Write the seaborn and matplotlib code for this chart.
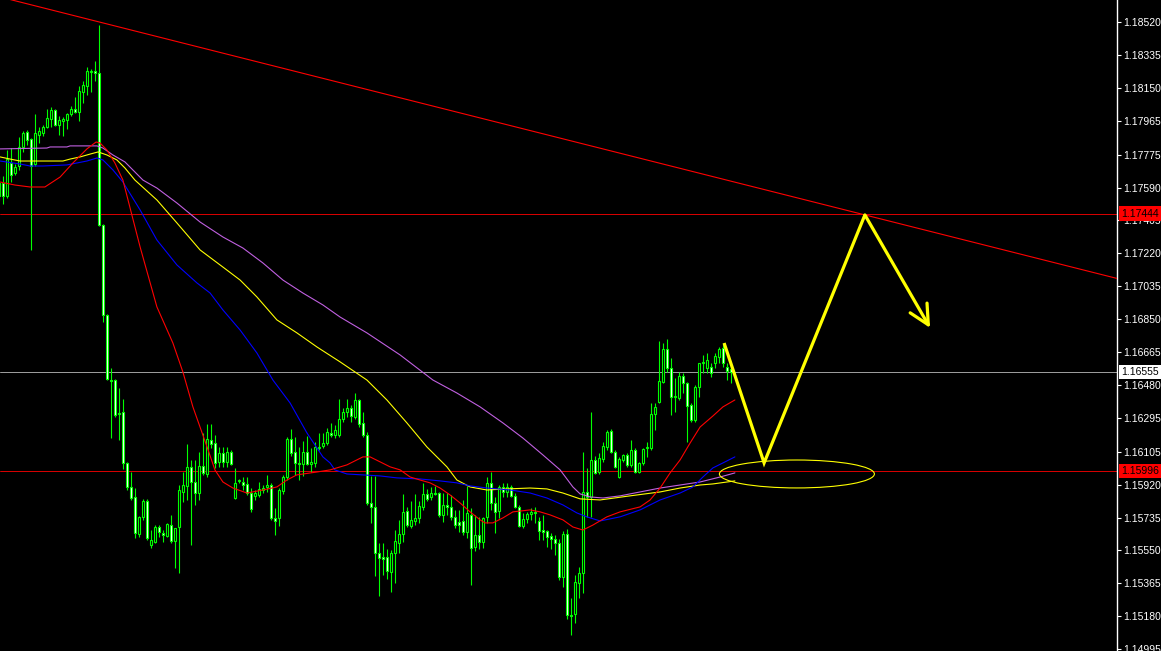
import numpy as np
import matplotlib
matplotlib.use("Agg")
import matplotlib.pyplot as plt
import seaborn as sns
from matplotlib.patches import Ellipse
from matplotlib.transforms import blended_transform_factory

# ---------------- data (prices) ----------------
opens = [1.17616, 1.17616, 1.17543, 1.17728, 1.17672, 1.17711, 1.17818, 1.17902, 1.17863, 1.17722,
         1.17885, 1.17897, 1.17930, 1.17975, 1.18026, 1.17942, 1.17964, 1.17970, 1.18003, 1.18031,
         1.18015, 1.18127, 1.18161, 1.18239, 1.18245, 1.18234, 1.17380, 1.16874, 1.16508, 1.16508,
         1.16323, 1.16329, 1.16042, 1.15907, 1.15851, 1.15643, 1.15739, 1.15828, 1.15581, 1.15598,
         1.15682, 1.15649, 1.15632, 1.15693, 1.15604, 1.15682, 1.15879, 1.15913, 1.16020, 1.15935,
         1.15873, 1.16025, 1.15980, 1.16171, 1.16154, 1.16048, 1.16098, 1.16048, 1.16104, 1.15845,
         1.15941, 1.15935, 1.15924, 1.15873, 1.15857, 1.15862, 1.15890, 1.15907, 1.15918, 1.15733,
         1.15733, 1.15885, 1.15963, 1.16177, 1.16104, 1.16042, 1.16036, 1.16104, 1.16036, 1.16042,
         1.16126, 1.16138, 1.16154, 1.16211, 1.16199, 1.16199, 1.16289, 1.16329, 1.16351, 1.16300,
         1.16396, 1.16267, 1.16199, 1.15817, 1.15795, 1.15536, 1.15514, 1.15514, 1.15429, 1.15536,
         1.15592, 1.15643, 1.15772, 1.15688, 1.15716, 1.15733, 1.15795, 1.15868, 1.15851, 1.15873,
         1.15873, 1.15750, 1.15806, 1.15795, 1.15739, 1.15710, 1.15716, 1.15654, 1.15750, 1.15570,
         1.15637, 1.15598, 1.15739, 1.15930, 1.15817, 1.15772, 1.15907, 1.15879, 1.15907, 1.15857,
         1.15795, 1.15688, 1.15727, 1.15755, 1.15767, 1.15716, 1.15665, 1.15660, 1.15632, 1.15615,
         1.15592, 1.15401, 1.15643, 1.15188, 1.15193, 1.15368, 1.15424, 1.15879, 1.15851, 1.16059,
         1.15991, 1.16064, 1.16132, 1.16222, 1.16104, 1.15963, 1.16059, 1.16087, 1.16031, 1.16115,
         1.15991, 1.16042, 1.16126, 1.16126, 1.16317, 1.16385, 1.16497, 1.16683, 1.16576, 1.16413,
         1.16407, 1.16531, 1.16492, 1.16368, 1.16284, 1.16469, 1.16604, 1.16576, 1.16582, 1.16604,
         1.16638, 1.16688, 1.16582, 1.16570]

highs = [1.17655, 1.17655, 1.17801, 1.17812, 1.17722, 1.17874, 1.17908, 1.17913, 1.17868, 1.18003,
         1.17930, 1.17942, 1.18031, 1.18043, 1.18031, 1.17992, 1.17986, 1.18009, 1.18048, 1.18099,
         1.18161, 1.18189, 1.18268, 1.18256, 1.18301, 1.18504, 1.17385, 1.16879, 1.16576, 1.16514,
         1.16463, 1.16402, 1.16048, 1.15991, 1.15901, 1.15744, 1.15840, 1.15840, 1.15665, 1.15693,
         1.15693, 1.15665, 1.15705, 1.15750, 1.15677, 1.15918, 1.15991, 1.16149, 1.16059, 1.16059,
         1.16104, 1.16211, 1.16261, 1.16261, 1.16199, 1.16132, 1.16132, 1.16132, 1.16115, 1.16014,
         1.15952, 1.15963, 1.15963, 1.15901, 1.15890, 1.15935, 1.15918, 1.15975, 1.15930, 1.15789,
         1.15901, 1.15975, 1.16188, 1.16233, 1.16188, 1.16132, 1.16166, 1.16194, 1.16126, 1.16160,
         1.16211, 1.16211, 1.16239, 1.16267, 1.16256, 1.16402, 1.16351, 1.16402, 1.16368, 1.16435,
         1.16402, 1.16329, 1.16216, 1.15969, 1.15969, 1.15592, 1.15592, 1.15559, 1.15553, 1.15665,
         1.15722, 1.15868, 1.15795, 1.15828, 1.15868, 1.15828, 1.15930, 1.15896, 1.15907, 1.15913,
         1.15879, 1.15873, 1.15873, 1.15862, 1.15778, 1.15778, 1.15834, 1.15913, 1.15789, 1.15750,
         1.15739, 1.15739, 1.15963, 1.15991, 1.15851, 1.15918, 1.15930, 1.15930, 1.15918, 1.15873,
         1.15806, 1.15761, 1.15767, 1.15789, 1.15795, 1.15739, 1.15750, 1.15665, 1.15649, 1.15637,
         1.15615, 1.15660, 1.15671, 1.15283, 1.15413, 1.15458, 1.16104, 1.16014, 1.16329, 1.16081,
         1.16098, 1.16160, 1.16227, 1.16233, 1.16115, 1.16076, 1.16093, 1.16098, 1.16171, 1.16126,
         1.16048, 1.16126, 1.16160, 1.16379, 1.16379, 1.16728, 1.16716, 1.16739, 1.16632, 1.16520,
         1.16553, 1.16548, 1.16497, 1.16379, 1.16480, 1.16604, 1.16649, 1.16660, 1.16604, 1.16660,
         1.16694, 1.16716, 1.16604, 1.16587]

lows = [1.17514, 1.17497, 1.17531, 1.17621, 1.17660, 1.17689, 1.17790, 1.17829, 1.17239, 1.17711,
        1.17840, 1.17880, 1.17925, 1.17930, 1.17936, 1.17885, 1.17880, 1.17919, 1.17992, 1.18009,
        1.17964, 1.18065, 1.18110, 1.18127, 1.18189, 1.17374, 1.16834, 1.16508, 1.16182, 1.16300,
        1.16171, 1.16008, 1.15890, 1.15834, 1.15620, 1.15626, 1.15722, 1.15609, 1.15564, 1.15592,
        1.15626, 1.15598, 1.15626, 1.15592, 1.15452, 1.15424, 1.15823, 1.15834, 1.15581, 1.15806,
        1.15834, 1.15975, 1.15963, 1.16126, 1.16014, 1.16020, 1.16020, 1.16020, 1.16031, 1.15840,
        1.15930, 1.15890, 1.15862, 1.15767, 1.15834, 1.15851, 1.15873, 1.15879, 1.15722, 1.15637,
        1.15688, 1.15868, 1.15946, 1.16081, 1.15975, 1.15946, 1.15969, 1.16031, 1.15991, 1.16020,
        1.16115, 1.16126, 1.16143, 1.16188, 1.16182, 1.16188, 1.16272, 1.16300, 1.16272, 1.16289,
        1.16244, 1.16188, 1.15806, 1.15705, 1.15407, 1.15295, 1.15413, 1.15390, 1.15317, 1.15368,
        1.15536, 1.15598, 1.15682, 1.15677, 1.15693, 1.15705, 1.15778, 1.15828, 1.15834, 1.15862,
        1.15739, 1.15710, 1.15750, 1.15722, 1.15677, 1.15654, 1.15637, 1.15620, 1.15356, 1.15547,
        1.15559, 1.15564, 1.15705, 1.15778, 1.15649, 1.15733, 1.15851, 1.15851, 1.15851, 1.15789,
        1.15682, 1.15677, 1.15705, 1.15722, 1.15705, 1.15609, 1.15609, 1.15570, 1.15559, 1.15525,
        1.15384, 1.15345, 1.15165, 1.15075, 1.15143, 1.15283, 1.15311, 1.15739, 1.15739, 1.15980,
        1.15980, 1.16048, 1.16115, 1.16098, 1.16014, 1.15958, 1.16048, 1.16020, 1.16020, 1.15986,
        1.15986, 1.16031, 1.16076, 1.16115, 1.16227, 1.16379, 1.16492, 1.16553, 1.16312, 1.16329,
        1.16396, 1.16435, 1.16160, 1.16272, 1.16272, 1.16413, 1.16548, 1.16548, 1.16525, 1.16576,
        1.16604, 1.16582, 1.16508, 1.16492]

closes = [1.17543, 1.17543, 1.17750, 1.17660, 1.17706, 1.17818, 1.17897, 1.17857, 1.17711, 1.17897,
          1.17908, 1.17930, 1.17981, 1.18026, 1.17942, 1.17970, 1.17975, 1.18003, 1.18031, 1.18015,
          1.18133, 1.18166, 1.18245, 1.18245, 1.18234, 1.17380, 1.16874, 1.16514, 1.16503, 1.16312,
          1.16317, 1.16042, 1.15907, 1.15845, 1.15649, 1.15739, 1.15828, 1.15620, 1.15609, 1.15682,
          1.15654, 1.15637, 1.15699, 1.15604, 1.15677, 1.15890, 1.15918, 1.16020, 1.15935, 1.15873,
          1.16025, 1.15986, 1.16177, 1.16149, 1.16042, 1.16098, 1.16048, 1.16104, 1.16036, 1.15930,
          1.15946, 1.15918, 1.15873, 1.15783, 1.15873, 1.15896, 1.15901, 1.15918, 1.15733, 1.15716,
          1.15890, 1.15963, 1.16177, 1.16098, 1.16042, 1.16036, 1.16104, 1.16036, 1.16048, 1.16132,
          1.16132, 1.16154, 1.16216, 1.16199, 1.16227, 1.16289, 1.16329, 1.16351, 1.16306, 1.16396,
          1.16261, 1.16199, 1.15817, 1.15795, 1.15536, 1.15508, 1.15502, 1.15435, 1.15536, 1.15604,
          1.15643, 1.15767, 1.15693, 1.15722, 1.15733, 1.15800, 1.15868, 1.15840, 1.15873, 1.15868,
          1.15750, 1.15806, 1.15795, 1.15739, 1.15693, 1.15693, 1.15654, 1.15761, 1.15564, 1.15637,
          1.15598, 1.15733, 1.15930, 1.15817, 1.15767, 1.15907, 1.15879, 1.15907, 1.15857, 1.15795,
          1.15688, 1.15727, 1.15755, 1.15767, 1.15761, 1.15660, 1.15654, 1.15626, 1.15615, 1.15592,
          1.15401, 1.15643, 1.15188, 1.15182, 1.15373, 1.15424, 1.15879, 1.15851, 1.16059, 1.15986,
          1.16070, 1.16138, 1.16216, 1.16104, 1.16020, 1.16064, 1.16087, 1.16031, 1.16115, 1.15991,
          1.16042, 1.16121, 1.16132, 1.16317, 1.16357, 1.16503, 1.16683, 1.16576, 1.16413, 1.16419,
          1.16531, 1.16492, 1.16362, 1.16284, 1.16469, 1.16604, 1.16610, 1.16621, 1.16548, 1.16643,
          1.16683, 1.16604, 1.16559, 1.16555]

# moving averages (bar position, price)
ma_red_x = [0.2, 3.9, 7.7, 11.4, 15.2, 18.4, 21.9, 24.2, 25.2, 26.9, 28.9, 30.9, 35.2, 39.4, 43.4,
            45.9, 48.4, 50.7, 52.2, 53.9, 55.9, 58.4, 61.9, 65.9, 69.4, 71.9, 74.4, 79.4, 82.7,
            86.9, 90.9, 92.7, 95.2, 97.7, 100.2, 102.7, 105.2, 107.7, 110.2, 112.7, 115.2, 117.7,
            120.2, 121.4, 123.4, 125.9, 128.4, 132.7, 135.2, 137.7, 140.9, 143.4, 145.9, 148.4,
            151.9, 155.2, 160.2, 162.7, 165.2, 167.7, 170.2, 172.7, 175.2, 178.4, 180.9, 183.9]
ma_red_y = [1.17621, 1.17604, 1.17593, 1.17593, 1.17649, 1.17728, 1.17807, 1.17846, 1.17840, 1.17801,
            1.17728, 1.17632, 1.17256, 1.16919, 1.16716, 1.16553, 1.16357, 1.16211, 1.16115, 1.16003,
            1.15935, 1.15901, 1.15873, 1.15890, 1.15907, 1.15946, 1.15975, 1.15991, 1.16003, 1.16031,
            1.16076, 1.16076, 1.16048, 1.16020, 1.16003, 1.15963, 1.15946, 1.15930, 1.15901, 1.15862,
            1.15817, 1.15767, 1.15722, 1.15705, 1.15705, 1.15733, 1.15767, 1.15778, 1.15767, 1.15750,
            1.15722, 1.15682, 1.15665, 1.15693, 1.15739, 1.15767, 1.15795, 1.15834, 1.15901, 1.15986,
            1.16059, 1.16154, 1.16244, 1.16306, 1.16357, 1.16396]

ma_blue_x = [0.2, 5.2, 7.7, 10.9, 16.9, 19.4, 21.9, 24.4, 25.9, 28.4, 30.9, 35.2, 39.4, 44.4, 49.4,
             52.7, 55.9, 60.2, 64.4, 68.4, 72.7, 76.9, 80.9, 82.7, 83.9, 86.9, 95.2, 99.4, 105.2,
             110.2, 114.4, 117.7, 121.9, 127.7, 132.7, 136.9, 140.9, 144.4, 146.9, 150.2, 155.2,
             160.2, 165.2, 170.2, 173.4, 175.9, 178.4, 180.9, 183.9]
ma_blue_y = [1.17739, 1.17722, 1.17711, 1.17711, 1.17717, 1.17728, 1.17739, 1.17756, 1.17745, 1.17689,
             1.17621, 1.17464, 1.17295, 1.17155, 1.17054, 1.16997, 1.16902, 1.16789, 1.16660, 1.16508,
             1.16379, 1.16211, 1.16076, 1.16042, 1.16003, 1.15980, 1.15969, 1.15958, 1.15952, 1.15941,
             1.15930, 1.15913, 1.15901, 1.15890, 1.15873, 1.15845, 1.15806, 1.15761, 1.15739, 1.15716,
             1.15739, 1.15778, 1.15834, 1.15873, 1.15907, 1.15963, 1.16014, 1.16042, 1.16076]

ma_yellow_x = [0.2, 2.7, 5.2, 10.9, 15.9, 17.7, 20.2, 22.7, 24.7, 26.9, 29.4, 31.4, 33.9, 39.4, 44.4,
               50.2, 55.9, 60.2, 64.4, 69.4, 74.4, 79.4, 85.2, 91.9, 96.9, 101.9, 106.9, 111.9,
               114.4, 117.7, 121.9, 126.9, 132.7, 136.9, 140.9, 145.2, 150.2, 157.7, 165.2, 170.2,
               175.2, 178.4, 183.9]
ma_yellow_y = [1.17762, 1.17750, 1.17739, 1.17739, 1.17739, 1.17750, 1.17762, 1.17778, 1.17790, 1.17773,
               1.17745, 1.17700, 1.17632, 1.17520, 1.17391, 1.17239, 1.17143, 1.17070, 1.16975, 1.16846,
               1.16773, 1.16694, 1.16610, 1.16508, 1.16396, 1.16267, 1.16132, 1.16020, 1.15946, 1.15907,
               1.15890, 1.15896, 1.15901, 1.15896, 1.15873, 1.15840, 1.15834, 1.15857, 1.15879, 1.15901,
               1.15918, 1.15924, 1.15941]

ma_violet_x = [0.2, 11.9, 12.7, 16.9, 17.7, 24.4, 25.9, 28.4, 31.4, 35.9, 39.4, 44.4, 50.2, 55.9,
               60.9, 65.9, 70.9, 75.9, 80.9, 85.2, 91.9, 100.2, 108.4, 114.4, 120.2, 125.9, 130.9,
               135.9, 140.2, 143.4, 145.2, 147.7, 150.9, 155.2, 157.7, 165.2, 170.2, 175.2, 180.2, 183.9]
ma_violet_y = [1.17807, 1.17812, 1.17818, 1.17818, 1.17824, 1.17824, 1.17812, 1.17773, 1.17734, 1.17632,
               1.17587, 1.17503, 1.17396, 1.17312, 1.17250, 1.17166, 1.17070, 1.16997, 1.16930, 1.16862,
               1.16773, 1.16649, 1.16508, 1.16435, 1.16357, 1.16267, 1.16182, 1.16087, 1.16003, 1.15907,
               1.15868, 1.15851, 1.15845, 1.15857, 1.15868, 1.15901, 1.15918, 1.15935, 1.15963, 1.15986]

# trend line, levels, drawing objects
trend_x = [0.175, 279.425]
trend_y = [1.18661, 1.17079]
level_red = [1.17444, 1.15996]
level_bid = 1.16555
zz_x = [181.2, 191.2, 216.4, 232.7]
zz_y = [1.16716, 1.16042, 1.17436, 1.16801]
ell_center = (199.4, 1.15980)
ell_size = (38.75, 0.00157)

tick_values = [1.18520, 1.18335, 1.18150, 1.17965, 1.17775, 1.17590, 1.17405, 1.17220, 1.17035,
               1.16850, 1.16665, 1.16480, 1.16295, 1.16105, 1.15920, 1.15735, 1.15550, 1.15365,
               1.15180, 1.14995]
tick_labels = ["1.18520", "1.18335", "1.18150", "1.17965", "1.17775", "1.17590", "1.17405", "1.17220",
               "1.17035", "1.16850", "1.16665", "1.16480", "1.16295", "1.16105", "1.15920", "1.15735",
               "1.15550", "1.15365", "1.15180", "1.14995"]

# ---------------- style ----------------
sns.set_style("dark", rc={"axes.facecolor": "black", "figure.facecolor": "black",
                          "axes.grid": False})
plt.rcParams["font.family"] = ["Liberation Sans", "DejaVu Sans"]

W, H = 1161, 651
fig = plt.figure(figsize=(W / 100, H / 100), dpi=100)
fig.patch.set_facecolor("black")
ax = fig.add_axes([0, 0, 1117 / W, 1])
ax.set_facecolor("black")

o = np.array(opens); c = np.array(closes); h = np.array(highs); l = np.array(lows)
idx = np.arange(len(o))
lime = "#00ff00"

# wicks and bodies
ax.vlines(idx, l, h, color=lime, linewidth=0.8, zorder=3)
bull = c >= o
bottoms = np.minimum(o, c)
heights = np.abs(c - o)
faces = np.where(bull, "black", "white")
ax.bar(idx, heights, bottom=bottoms, width=0.5, color=faces, edgecolor=lime,
       linewidth=0.8, zorder=4, align="center")

# levels
for lv in level_red:
    ax.axhline(lv, color="#ff0000", linewidth=0.6, zorder=2)
ax.axhline(level_bid, color="#a0a0a0", linewidth=0.7, zorder=2)

# moving averages via seaborn
for xs, ys, col in [(ma_violet_x, ma_violet_y, "#c060e0"),
                    (ma_yellow_x, ma_yellow_y, "#ffff00"),
                    (ma_blue_x, ma_blue_y, "#0000ff"),
                    (ma_red_x, ma_red_y, "#ff0000")]:
    sns.lineplot(x=xs, y=ys, ax=ax, color=col, linewidth=0.8, sort=False,
                 estimator=None, zorder=5)

# trend line
sns.lineplot(x=trend_x, y=trend_y, ax=ax, color="#ff0000", linewidth=0.8, sort=False,
             estimator=None, zorder=5)

# yellow drawing: zigzag with arrow + ellipse
ax.plot(zz_x[:-1], zz_y[:-1], color="#ffff00", linewidth=2.3, zorder=6,
        solid_capstyle="butt", solid_joinstyle="miter")
ax.annotate("", xy=(zz_x[-1], zz_y[-1]), xytext=(zz_x[-2], zz_y[-2]),
            arrowprops=dict(arrowstyle="->,head_length=0.7,head_width=0.35", color="#ffff00",
                            linewidth=2.3, mutation_scale=20, shrinkA=0, shrinkB=0),
            zorder=6)
ax.add_patch(Ellipse(ell_center, ell_size[0], ell_size[1], fill=False,
                     edgecolor="#ffff00", linewidth=0.8, zorder=6))

# axes limits
ax.set_xlim(0.175, 0.175 + 1117 / 4)
ax.set_ylim(1.14985, 1.18644)
ax.set_xticks([])

# right price axis
ax.yaxis.tick_right()
ax.set_yticks(tick_values)
ax.set_yticklabels(tick_labels)
ax.tick_params(axis="y", which="both", direction="out", length=3, width=0.8,
               colors="white", labelsize=7.5, pad=1.5, right=True, left=False)
for side in ["left", "top", "bottom"]:
    ax.spines[side].set_visible(False)
ax.spines["right"].set_visible(True)
ax.spines["right"].set_color("white")
ax.spines["right"].set_linewidth(1.0)

# highlighted price labels
tr = blended_transform_factory(ax.transAxes, ax.transData)
xlab = 1121 / 1117
for val, fc in [(level_red[0], "#ff0000"), (level_bid, "white"), (level_red[1], "#ff0000")]:
    ax.text(xlab, val, f"{val:.5f}", transform=tr, ha="left", va="center", fontsize=7.5,
            color="black", zorder=10, clip_on=False,
            bbox=dict(boxstyle="square,pad=0.2", fc=fc, ec="none"))

fig.savefig("out.png", dpi=100, facecolor="black")
